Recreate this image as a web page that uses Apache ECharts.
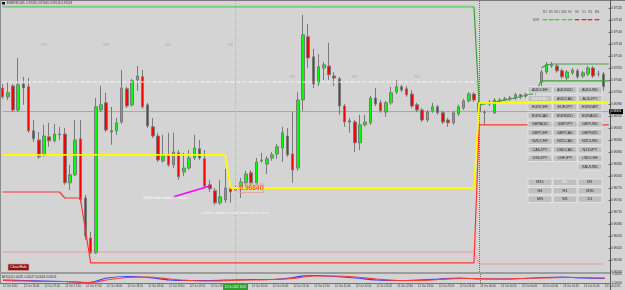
<!DOCTYPE html>
<html><head><meta charset="utf-8">
<script src="https://cdn.jsdelivr.net/npm/echarts@6/dist/echarts.min.js"></script>
<style>html,body{margin:0;padding:0;background:#d4d4d4}#c{width:625px;height:290px}</style>
</head><body><div id="c"></div>
<script>
// ---- data (prices) ----
// candles: [open, close, low, high], one per M5 bar starting 12 Oct 16:20
const candles = [
[0.97020,0.96998,0.96993,0.97030],[0.96998,0.97008,0.96990,0.97033],[0.97025,0.96965,0.96960,0.97030],
[0.96965,0.97028,0.96960,0.97095],[0.97030,0.97020,0.96978,0.97048],[0.97023,0.96913,0.96908,0.97045],
[0.96913,0.96893,0.96885,0.96940],[0.96890,0.96848,0.96843,0.96910],[0.96853,0.96900,0.96848,0.96928],
[0.96898,0.96888,0.96873,0.96933],[0.96888,0.96905,0.96883,0.96930],[0.96905,0.96903,0.96890,0.96923],
[0.96905,0.96783,0.96778,0.96920],[0.96783,0.96803,0.96765,0.96828],[0.96803,0.96890,0.96800,0.96940],
[0.96893,0.96740,0.96733,0.96940],[0.96745,0.96650,0.96640,0.96753],[0.96645,0.96608,0.96605,0.96660],
[0.96608,0.96973,0.96605,0.96995],[0.96965,0.96978,0.96960,0.97025],[0.96983,0.96915,0.96910,0.97008],
[0.96913,0.96910,0.96878,0.96973],[0.96913,0.96933,0.96903,0.96945],[0.96935,0.97020,0.96930,0.97065],
[0.97018,0.96975,0.96970,0.97023],[0.96978,0.97038,0.96973,0.97043],[0.97040,0.97050,0.97013,0.97075],
[0.97048,0.96973,0.96968,0.97065],[0.96978,0.96925,0.96920,0.96983],[0.96923,0.96900,0.96895,0.96945],
[0.96900,0.96840,0.96835,0.96908],[0.96838,0.96853,0.96833,0.96903],[0.96853,0.96828,0.96823,0.96908],
[0.96828,0.96860,0.96820,0.96908],[0.96858,0.96798,0.96790,0.96865],[0.96810,0.96820,0.96800,0.96858],
[0.96820,0.96845,0.96815,0.96865],[0.96845,0.96870,0.96840,0.96903],[0.96868,0.96845,0.96840,0.96890],
[0.96843,0.96775,0.96770,0.96865],[0.96778,0.96768,0.96760,0.96790],[0.96763,0.96733,0.96728,0.96770],
[0.96733,0.96748,0.96728,0.96790],[0.96740,0.96770,0.96733,0.96818],[0.96770,0.96760,0.96733,0.96778],
[0.96765,0.96770,0.96760,0.96775],[0.96768,0.96785,0.96745,0.96795],[0.96783,0.96805,0.96778,0.96813],
[0.96808,0.96783,0.96778,0.96815],[0.96783,0.96835,0.96778,0.96845],[0.96840,0.96838,0.96833,0.96858],
[0.96830,0.96843,0.96805,0.96850],[0.96845,0.96853,0.96838,0.96860],[0.96855,0.96873,0.96843,0.96880],
[0.96870,0.96908,0.96835,0.96923],[0.96900,0.96853,0.96848,0.96920],[0.96855,0.96815,0.96783,0.96960],
[0.96820,0.96990,0.96813,0.97010],[0.96990,0.97153,0.96963,0.97203],[0.97148,0.97095,0.97070,0.97180],
[0.97098,0.97030,0.97020,0.97118],[0.97033,0.97073,0.97025,0.97105],[0.97070,0.97078,0.97040,0.97085],
[0.97075,0.97053,0.97040,0.97133],[0.97050,0.97045,0.97025,0.97060],[0.97043,0.96975,0.96953,0.97048],
[0.96975,0.96935,0.96923,0.96980],[0.96938,0.96935,0.96908,0.96945],[0.96935,0.96883,0.96860,0.96940],
[0.96883,0.96928,0.96865,0.96953],[0.96928,0.96935,0.96923,0.96953],[0.96933,0.96995,0.96928,0.97000],
[0.96995,0.96980,0.96975,0.97020],[0.96983,0.96963,0.96958,0.96990],[0.96960,0.96983,0.96948,0.96988],
[0.96983,0.97008,0.96978,0.97023],[0.97010,0.97023,0.97005,0.97040],[0.97023,0.97015,0.97010,0.97028],
[0.97018,0.97003,0.96998,0.97025],[0.97005,0.96975,0.96970,0.97015],[0.96978,0.96965,0.96960,0.96983],
[0.96965,0.96940,0.96935,0.96970],[0.96940,0.96960,0.96935,0.96965],[0.96963,0.96973,0.96958,0.96983],
[0.96973,0.96958,0.96953,0.96978],[0.96958,0.96935,0.96930,0.96963],[0.96940,0.96933,0.96923,0.96945],
[0.96933,0.96958,0.96928,0.96963],[0.96955,0.96973,0.96950,0.96978],[0.96970,0.96988,0.96965,0.96993],
[0.96988,0.97005,0.96983,0.97010],[0.97005,0.96990,0.96985,0.97010],[0.96983,0.96960,0.96955,0.96990],
[0.96958,0.96960,0.96928,0.96965],[0.96980,0.96985,0.96975,0.96990],[0.96958,0.96990,0.96955,0.96995],
[0.96988,0.96990,0.96983,0.96995],[0.96990,0.96993,0.96988,0.96998],[0.96993,0.96995,0.96988,0.97000],
[0.96995,0.97003,0.96990,0.97008],[0.97003,0.96998,0.96993,0.97005],[0.97000,0.97003,0.96995,0.97008],
[0.97003,0.97008,0.96998,0.97010],[0.97008,0.97013,0.97003,0.97018],[0.97035,0.97060,0.97020,0.97065],
[0.97060,0.97078,0.97055,0.97085],[0.97075,0.97078,0.97070,0.97085],[0.97075,0.97063,0.97058,0.97080],
[0.97063,0.97048,0.97043,0.97068],[0.97045,0.97060,0.97040,0.97065],[0.97058,0.97065,0.97053,0.97070],
[0.97063,0.97048,0.97043,0.97068],[0.97050,0.97058,0.97045,0.97063],[0.97055,0.97070,0.97050,0.97075],
[0.97070,0.97050,0.97045,0.97075],[0.97055,0.97055,0.97048,0.97063],[0.97055,0.97023,0.97013,0.97060]
];
const SLOTS = 118;
// time axis labels, one every 4 bars
const timeLabels = ['12 Oct 2022','12 Oct 16:40','12 Oct 17:00','12 Oct 17:20','12 Oct 17:40','12 Oct 18:00',
 '12 Oct 18:20','12 Oct 18:40','12 Oct 19:00','12 Oct 19:20','12 Oct 19:40','12 Oct 20:00','12 Oct 20:20',
 '12 Oct 20:40','12 Oct 21:00','12 Oct 21:20','12 Oct 21:40','12 Oct 22:00','12 Oct 22:20','12 Oct 22:40',
 '12 Oct 23:00','12 Oct 23:20','12 Oct 23:40','13 Oct 00:00','13 Oct 00:20','13 Oct 00:40','13 Oct 01:00',
 '13 Oct 01:20','13 Oct 01:40','13 Oct 02:00'];
// indicator lines as [barIndex, price] corner points
const yellowLine = [[0,0.96853],[43,0.96853],[44,0.96770],[91,0.96770],[92,0.96983],[117,0.96983]];
const redLine = [[0,0.96760],[11,0.96760],[12,0.96745],[15,0.96745],[17,0.96583],[91,0.96583],[92,0.96928],[117,0.96928]];
const redDotted = [[0,0.96610],[91,0.96610],[92,0.96580],[116,0.96580]];
const greenTop = [[0,0.97223],[91,0.97223]];
const greenLow = [[91,0.97223],[92,0.96978],[95,0.96985],[99,0.96995],[102,0.97005],[103,0.97013],[104,0.97038],[117,0.97038]];
const greenHigh = [[104,0.97070],[105,0.97078],[106,0.97080],[117,0.97080]];
const whiteDashed = [[0,0.97035],[91,0.97035]];
const magentaLine = [[33,0.96748],[40,0.96775]];
const bidPrice = 0.96961;
const bidLine = [[0,bidPrice],[117,bidPrice]];
const hourLabels = ['H17','H18','H19','H20','H21','H22','H23'];
const hourPoints = [[8,0.97128],[20,0.97128],[32,0.97128],[44,0.97128],[56,0.97048],[68,0.97048],[80,0.97048]];
// sub-window oscillator
const subSlots = [0,4,8,12,14,16,18,20,24,28,32,36,40,44,48,52,56,58,60,64,68,72,76,80,84,88,92,96,100,104,108,112,116];
const blueVals = [0.00015,0.000125,0.0001,0.000075,0.00005,0,0.0001,0.00025,0.000325,0.000275,0.00015,0.000125,0.000125,0.00015,0.000175,0.000175,0.000275,0.00036,0.000375,0.000325,0.00025,0.00015,0.000125,0.00015,0.0002,0.00025,0.0002,0.0002,0.000225,0.000275,0.0003,0.00025,0.000225];
const redVals = [0.000125,0.0001,0.000075,0.000075,0.00005,0.000025,0.00005,0.00015,0.000275,0.0003,0.0002,0.000125,0.0001,0.000125,0.00015,0.000175,0.000225,0.0003,0.00035,0.00035,0.0003,0.0002,0.000125,0.000125,0.000175,0.000225,0.000225,0.0002,0.000225,0.00025,0.000275,0.000275,0.00025];
const symbolRows = [['AUDCHF','AUDNZD','AUDUSD'],['EURUSD','AUDCAD','AUDJPY'],['EURCHF','EURJPY','EURGBP'],
 ['EURCAD','EURNZD','EURAUD'],['GBPAUD','GBPJPY','GBPUSD'],['GBPCHF','GBPCAD','GBPNZD'],['NZDCHF','NZDCAD','NZDUSD'],
 ['CADJPY','USDCAD','NZDJPY'],['USDJPY','CHFJPY','USDCHF'],['','','XAUUSD']];
const tfRows = [['M15','M5','M1'],['H4','H1','M30'],['MN','W1','D1']];
const tfLegend = ['M1','M5','M15','M30','H1','H4','D1','W1','MN'];

// ---- build ----
const FONT = 'Liberation Sans';
const cats = Array.from({length: SLOTS}, (_, i) => 's' + i);
const labelBySlot = {};
timeLabels.forEach((t, k) => { labelBySlot[k * 4] = t; });
const subBlue = subSlots.map((s, i) => [s, blueVals[i]]);
const subRed = subSlots.map((s, i) => [s, redVals[i]]);

function lineSeries(data, color, width, type, z) {
  return { type: 'line', data, xAxisIndex: 0, yAxisIndex: 0, symbol: 'none', silent: true, z: z || 5,
    lineStyle: { color, width, type: type || 'solid' } };
}

const G = [];
function rect(x, y, w, h, fill, stroke, lw) { G.push({ type: 'rect', shape: { x, y, width: w, height: h }, style: { fill, stroke: stroke || null, lineWidth: lw || 0 }, silent: true, z: 100 }); }
function text(x, y, t, size, fill, align, weight) { G.push({ type: 'text', x, y, style: { text: t, fill, fontSize: size, fontFamily: FONT, align: align || 'left', verticalAlign: 'middle', fontWeight: weight || 'normal' }, silent: true, z: 101 }); }
function line(x1, y1, x2, y2, stroke, lw) { G.push({ type: 'line', shape: { x1, y1, x2, y2 }, style: { stroke, lineWidth: lw }, silent: true, z: 99 }); }

// frame
line(0, 0.5, 625, 0.5, '#7a7a7a', 1);
line(0.5, 0, 0.5, 283, '#8a8a8a', 1);
rect(0, 272, 610, 2, '#9c9c9c');
line(0, 283.5, 610, 283.5, '#777', 1);
line(610.5, 0, 610.5, 290, '#5a5a5a', 1);
// title
rect(2, 2, 3, 2.5, '#111');
text(7, 3.5, 'EURUSD,M5  0.97055 0.97060 0.97013 0.97023', 3, '#333');
// top-right timeframe legend
const legendX = [545, 551, 557, 564, 570, 577, 584, 590, 597];
tfLegend.forEach((t, i) => {
  text(legendX[i], 12, t, 2.8, '#555', 'center');
  rect(legendX[i] - 2.3, 19, 4.6, 1.3, i < 5 ? '#2ed82e' : '#ee2222');
});
text(533, 19.8, 'EUR', 2.8, '#555');
// symbol buttons
const colX = [528, 553, 578];
symbolRows.forEach((row, r) => row.forEach((s, c) => {
  if (!s) return;
  const y = 86.7 + 8.55 * r;
  rect(colX[c], y, 24, 6.4, '#bfbfbf', '#e8e8e8', 0.8);
  text(colX[c] + 12, y + 3.3, s, 3.8, s === 'EURUSD' ? '#f2f2f2' : '#2a2a2a', 'center');
}));
const tfY = [179, 187.4, 195.8];
tfRows.forEach((row, r) => row.forEach((s, c) => {
  rect(colX[c], tfY[r], 24, 6.6, '#bfbfbf', '#e8e8e8', 0.8);
  text(colX[c] + 12, tfY[r] + 3.4, s, 3.8, s === 'M5' ? '#f2f2f2' : '#2a2a2a', 'center');
}));
// annotations
text(143, 197.5, '25400 took 4 bars 7 minutes', 3.6, '#ffffff');
text(201, 213, 'a HoLo trade would have been here', 4.3, '#f4f4f4');
rect(239, 184, 24.5, 8.5, null, '#e3a090', 0.8);
text(251.3, 188.3, '0.96840', 6.5, '#ff5a2a', 'center', 'bold');
rect(8, 264, 21, 6.6, '#8b1212', '#d8a8a8', 0.7);
text(18.5, 267.4, 'Close/Hide', 3.4, '#ffffff', 'center');
text(2, 277, 'ADX(14) 0.00021 0.00027 0.00026 0.00026', 2.8, '#333');
rect(223, 284, 25, 6, '#2f9f2f');
text(235.5, 287, '12 Oct 2022 20:05', 2.6, '#ffffff', 'center');

const option = {
  backgroundColor: '#d4d4d4',
  animation: false,
  grid: [
    { left: -1, top: 0, width: 613.6, height: 272 },
    { left: -1, top: 274, width: 613.6, height: 9 }
  ],
  xAxis: [
    { type: 'category', gridIndex: 0, data: cats, show: false, boundaryGap: true },
    { type: 'category', gridIndex: 1, data: cats, boundaryGap: true,
      axisLine: { show: false }, axisTick: { show: true, interval: 3, length: 1.2, lineStyle: { color: '#666' } },
      axisLabel: { interval: 3, align: 'left', margin: 2, fontSize: 2.7, fontFamily: FONT, color: '#333',
        formatter: (v, i) => labelBySlot[i] || '' } }
  ],
  yAxis: [
    { type: 'value', gridIndex: 0, position: 'right', offset: -2.6, min: 0.9656, max: 0.9724, interval: 0.0003,
      axisLine: { show: false }, axisTick: { show: true, length: 1.5, lineStyle: { color: '#555' } }, splitLine: { show: false },
      axisLabel: { showMaxLabel: false, margin: 2.5, fontSize: 3, fontFamily: FONT, color: '#333', formatter: v => v.toFixed(5) } },
    { type: 'value', gridIndex: 1, position: 'right', offset: -2.6, min: 0, max: 0.00045, interval: 0.00045,
      axisLine: { show: false }, axisTick: { show: false }, splitLine: { show: false },
      axisLabel: { margin: 2.5, fontSize: 2.6, fontFamily: FONT, color: '#333', formatter: v => v.toFixed(5) } }
  ],
  series: [
    { type: 'candlestick', xAxisIndex: 0, yAxisIndex: 0, data: candles, barWidth: 3, z: 3, silent: true,
      itemStyle: { color: '#00ff00', color0: '#ff0000', borderColor: '#7a7a7a', borderColor0: '#7a7a7a', borderWidth: 1 },
      markLine: { symbol: 'none', silent: true, animation: false, label: { show: false },
        data: [
          { xAxis: 's45', lineStyle: { color: '#93cf93', type: 'dotted', width: 1 } },
          { xAxis: 's92', lineStyle: { color: '#6a6a6a', type: 'dotted', width: 1 } }
        ] } },
    { type: 'line', data: bidLine, xAxisIndex: 0, yAxisIndex: 0, symbol: 'none', silent: true, z: 2,
      lineStyle: { color: '#a4a4a4', width: 1 },
      endLabel: { show: true, formatter: '0.96961', distance: 0.5, backgroundColor: '#000', color: '#fff',
        fontSize: 3, fontFamily: FONT, padding: [1, 1.5] } },
    lineSeries(whiteDashed, '#f6f6f6', 1, 'dashed', 4),
    lineSeries(redDotted, '#ff6a6a', 1, 'dotted', 4),
    lineSeries(greenTop, '#7ccc7c', 2, 'solid', 5),
    lineSeries(greenLow, '#3f9f3f', 1.2, 'solid', 5),
    lineSeries(greenHigh, '#3f9f3f', 1.2, 'solid', 5),
    lineSeries(redLine, '#ff3434', 1.2, 'solid', 6),
    lineSeries(yellowLine, '#ffff00', 1.8, 'solid', 7),
    lineSeries(magentaLine, '#ff00ff', 1.5, 'solid', 7),
    { type: 'scatter', xAxisIndex: 0, yAxisIndex: 0, data: hourPoints, symbolSize: 0, silent: true, z: 8,
      label: { show: true, position: 'inside', formatter: p => hourLabels[p.dataIndex], fontSize: 3, fontFamily: FONT, color: '#a2a2a2' } },
    { type: 'line', xAxisIndex: 1, yAxisIndex: 1, data: subRed, symbol: 'none', smooth: 0.3, silent: true, z: 5,
      lineStyle: { color: '#ff3a3a', width: 1.2 },
      markLine: { symbol: 'none', silent: true, animation: false, label: { show: false },
        data: [ { xAxis: 's45', lineStyle: { color: '#93cf93', type: 'dotted', width: 1 } },
                { xAxis: 's92', lineStyle: { color: '#6a6a6a', type: 'dotted', width: 1 } } ] } },
    { type: 'line', xAxisIndex: 1, yAxisIndex: 1, data: subBlue, symbol: 'none', smooth: 0.3, silent: true, z: 4,
      lineStyle: { color: '#3f3fff', width: 1.2 } }
  ],
  graphic: G
};
const chart = echarts.init(document.getElementById('c'), null, { renderer: 'canvas' });
chart.setOption(option);
</script></body></html>
